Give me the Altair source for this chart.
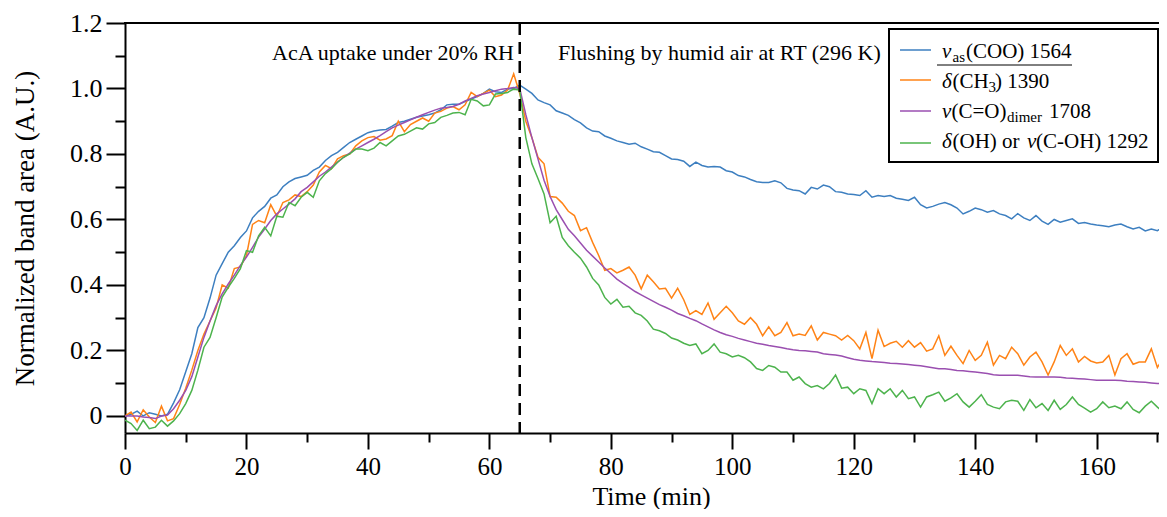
import altair as alt
import pandas as pd

# ---------------- data ----------------
time_min = list(range(172))

series_names = ["nu_as(COO) 1564", "delta(CH3) 1390", "nu(C=O)dimer 1708", "delta(OH) or nu(C-OH) 1292"]
series_colors = ["#3d7fc0", "#ff8316", "#9a4fb0", "#4db34d"]

blue = [
    0.000, 0.005, 0.015, 0.000, 0.010, 0.005, 0.000, 0.005, 0.040, 0.080,
    0.135, 0.190, 0.270, 0.300, 0.360, 0.430, 0.465, 0.500, 0.520, 0.545,
    0.565, 0.605, 0.625, 0.640, 0.665, 0.675, 0.700, 0.715, 0.725, 0.730,
    0.735, 0.750, 0.760, 0.780, 0.795, 0.805, 0.820, 0.835, 0.845, 0.855,
    0.865, 0.870, 0.873, 0.875, 0.885, 0.896, 0.900, 0.906, 0.912, 0.916,
    0.920, 0.925, 0.935, 0.950, 0.952, 0.952, 0.960, 0.968, 0.975, 0.985,
    0.998, 0.990, 0.988, 0.998, 1.000, 1.010, 0.998, 0.985, 0.965, 0.957,
    0.950, 0.932, 0.925, 0.918, 0.905, 0.895, 0.880, 0.870, 0.868, 0.855,
    0.848, 0.840, 0.835, 0.830, 0.833, 0.822, 0.815, 0.807, 0.805, 0.795,
    0.785, 0.783, 0.778, 0.762, 0.775, 0.765, 0.760, 0.762, 0.760, 0.749,
    0.745, 0.734, 0.730, 0.722, 0.715, 0.713, 0.713, 0.718, 0.712, 0.695,
    0.690, 0.688, 0.678, 0.698, 0.693, 0.705, 0.700, 0.685, 0.683, 0.678,
    0.676, 0.673, 0.688, 0.668, 0.673, 0.670, 0.673, 0.665, 0.662, 0.658,
    0.668, 0.645, 0.635, 0.640, 0.647, 0.652, 0.645, 0.635, 0.617, 0.625,
    0.635, 0.630, 0.622, 0.627, 0.617, 0.612, 0.602, 0.618, 0.605, 0.597,
    0.612, 0.595, 0.585, 0.600, 0.592, 0.597, 0.602, 0.588, 0.591, 0.586,
    0.583, 0.581, 0.578, 0.583, 0.586, 0.578, 0.571, 0.576, 0.565, 0.571,
    0.566, 0.578,
]

orange = [
    0.000, 0.012, -0.018, 0.019, -0.003, -0.020, 0.030, -0.015, -0.008, 0.035,
    0.085, 0.140, 0.200, 0.250, 0.290, 0.330, 0.400, 0.390, 0.450, 0.455,
    0.490, 0.585, 0.597, 0.590, 0.645, 0.610, 0.652, 0.660, 0.675, 0.670,
    0.685, 0.705, 0.745, 0.765, 0.755, 0.785, 0.795, 0.800, 0.825, 0.840,
    0.850, 0.853, 0.842, 0.846, 0.856, 0.900, 0.868, 0.890, 0.900, 0.910,
    0.900, 0.925, 0.930, 0.940, 0.945, 0.935, 0.950, 0.988, 0.975, 0.985,
    0.995, 0.975, 0.980, 0.995, 1.045, 0.985, 0.900, 0.850, 0.790, 0.770,
    0.670, 0.668, 0.650, 0.625, 0.612, 0.566, 0.575, 0.530, 0.490, 0.445,
    0.450, 0.437, 0.445, 0.455, 0.430, 0.388, 0.430, 0.410, 0.388, 0.390,
    0.360, 0.390, 0.355, 0.310, 0.322, 0.310, 0.345, 0.295, 0.315, 0.335,
    0.315, 0.290, 0.280, 0.300, 0.280, 0.245, 0.272, 0.245, 0.255, 0.285,
    0.245, 0.250, 0.246, 0.275, 0.232, 0.255, 0.250, 0.245, 0.232, 0.246,
    0.230, 0.205, 0.255, 0.175, 0.262, 0.212, 0.222, 0.228, 0.210, 0.230,
    0.210, 0.224, 0.198, 0.205, 0.245, 0.185, 0.213, 0.185, 0.160, 0.200,
    0.170, 0.185, 0.225, 0.155, 0.185, 0.175, 0.210, 0.190, 0.155, 0.180,
    0.195, 0.165, 0.125, 0.165, 0.215, 0.185, 0.205, 0.165, 0.182, 0.168,
    0.162, 0.165, 0.185, 0.125, 0.175, 0.190, 0.158, 0.165, 0.165, 0.205,
    0.148, 0.178,
]

purple = [
    0.000, 0.000, 0.000, -0.003, -0.005, -0.008, 0.000, 0.003, 0.022, 0.048,
    0.078, 0.120, 0.180, 0.240, 0.290, 0.337, 0.373, 0.403, 0.430, 0.460,
    0.485, 0.515, 0.546, 0.571, 0.597, 0.617, 0.632, 0.647, 0.663, 0.685,
    0.698, 0.715, 0.732, 0.745, 0.760, 0.775, 0.790, 0.803, 0.815, 0.825,
    0.835, 0.845, 0.856, 0.868, 0.880, 0.888, 0.896, 0.904, 0.912, 0.920,
    0.927, 0.934, 0.940, 0.942, 0.945, 0.952, 0.962, 0.970, 0.978, 0.983,
    0.988, 0.993, 0.998, 1.000, 1.003, 1.000, 0.920, 0.850, 0.785, 0.720,
    0.670, 0.630, 0.600, 0.570, 0.550, 0.528, 0.506, 0.488, 0.470, 0.452,
    0.435, 0.418, 0.405, 0.393, 0.380, 0.370, 0.360, 0.350, 0.340, 0.332,
    0.323, 0.313, 0.306, 0.298, 0.291, 0.281, 0.272, 0.263, 0.255, 0.248,
    0.243, 0.237, 0.232, 0.227, 0.222, 0.219, 0.215, 0.212, 0.209, 0.205,
    0.202, 0.200, 0.199, 0.197, 0.195, 0.190, 0.188, 0.186, 0.183, 0.178,
    0.173, 0.170, 0.168, 0.166, 0.165, 0.163, 0.161, 0.160, 0.159, 0.157,
    0.155, 0.153, 0.150, 0.147, 0.144, 0.144, 0.142, 0.139, 0.138, 0.136,
    0.134, 0.132, 0.130, 0.126, 0.124, 0.124, 0.124, 0.124, 0.122, 0.120,
    0.119, 0.119, 0.119, 0.119, 0.118, 0.116, 0.115, 0.114, 0.113, 0.111,
    0.109, 0.109, 0.109, 0.109, 0.108, 0.106, 0.105, 0.104, 0.103, 0.101,
    0.099, 0.101,
]

green = [
    -0.013, -0.023, -0.044, -0.013, -0.039, -0.034, -0.013, -0.031, -0.015, 0.007,
    0.038, 0.078, 0.140, 0.210, 0.240, 0.300, 0.363, 0.393, 0.420, 0.450,
    0.505, 0.500, 0.550, 0.576, 0.550, 0.610, 0.607, 0.652, 0.642, 0.668,
    0.683, 0.668, 0.718, 0.740, 0.755, 0.775, 0.790, 0.800, 0.815, 0.815,
    0.810, 0.818, 0.835, 0.825, 0.840, 0.855, 0.860, 0.870, 0.880, 0.876,
    0.892, 0.896, 0.912, 0.918, 0.925, 0.927, 0.920, 0.967, 0.962, 0.947,
    0.950, 0.983, 0.985, 0.988, 0.998, 0.995, 0.850, 0.770, 0.725, 0.678,
    0.590, 0.610, 0.545, 0.520, 0.500, 0.482, 0.455, 0.420, 0.400, 0.362,
    0.342, 0.356, 0.332, 0.335, 0.315, 0.307, 0.290, 0.265, 0.260, 0.252,
    0.238, 0.232, 0.222, 0.215, 0.220, 0.190, 0.200, 0.220, 0.195, 0.190,
    0.180, 0.185, 0.178, 0.165, 0.145, 0.139, 0.154, 0.149, 0.134, 0.134,
    0.109, 0.119, 0.099, 0.088, 0.093, 0.083, 0.099, 0.125, 0.085, 0.088,
    0.068, 0.083, 0.078, 0.038, 0.083, 0.068, 0.083, 0.058, 0.078, 0.053,
    0.058, 0.027, 0.058, 0.065, 0.073, 0.045, 0.055, 0.068, 0.043, 0.027,
    0.045, 0.065, 0.035, 0.027, 0.022, 0.043, 0.048, 0.045, 0.017, 0.050,
    0.025, 0.038, 0.017, 0.048, 0.020, 0.035, 0.058, 0.035, 0.024, 0.012,
    0.022, 0.043, 0.025, 0.030, 0.022, 0.043, 0.020, 0.010, 0.030, 0.045,
    0.027, 0.012,
]

flush_start = [65]
x_ticks = list(range(0, 171, 10))
y_ticks = [round(i * 0.1, 1) for i in range(13)]

# ---------------- build table ----------------
frames = []
for name, vals in zip(series_names, [blue, orange, purple, green]):
    frames.append(pd.DataFrame({"t": time_min, "v": vals, "series": name}))
df = pd.concat(frames, ignore_index=True)

FONT = "Liberation Serif"
W, H = 1034, 410
PX_PER_MIN = 6.073

x_scale = alt.Scale(domain=[0, W / PX_PER_MIN], nice=False, zero=False)
y_scale = alt.Scale(domain=[-0.052, 1.2], nice=False, zero=False)

common_axis = dict(
    grid=False, domainColor="black", domainWidth=2, tickColor="black", tickWidth=2,
    labelFont=FONT, labelColor="black", labelOverlap=False, labelFlush=False,
    titleFont=FONT, titleFontWeight="normal", titleColor="black",
)

x_axis = alt.Axis(
    values=x_ticks,
    labelExpr="datum.value % 20 === 0 ? datum.label : ''",
    tickSize={"condition": {"test": "datum.value % 20 === 0", "value": 16}, "value": 9},
    labelPadding=5, labelFontSize=25,
    title="Time (min)", titleFontSize=26, titleBaseline="alphabetic", titleY=71, titleX=526,
    **common_axis,
)
y_axis = alt.Axis(
    values=y_ticks,
    labelExpr="(round(datum.value*10) % 2 === 0) ? (abs(datum.value) < 0.001 ? '0' : format(datum.value, '.1f')) : ''",
    tickSize={"condition": {"test": "round(datum.value*10) % 2 === 0", "value": 19}, "value": 10},
    labelPadding=4, labelFontSize=26,
    title="Normalized band area (A.U.)", titleFontSize=27, titleBaseline="alphabetic", titleAngle=270,
    titleX=-92, titleY=H / 2, titleAlign="center",
    **common_axis,
)

lines = alt.Chart(df).mark_line(strokeWidth=1.5, clip=True).encode(
    x=alt.X("t:Q", scale=x_scale, axis=x_axis),
    y=alt.Y("v:Q", scale=y_scale, axis=y_axis),
    color=alt.Color("series:N", scale=alt.Scale(domain=series_names, range=series_colors), legend=None),
)

vline = alt.Chart(pd.DataFrame({"t": flush_start})).mark_rule(
    color="black", strokeWidth=2.5, strokeDash=[12, 7]
).encode(x=alt.X("t:Q", scale=x_scale, axis=x_axis), y=alt.value(0), y2=alt.value(H))

one = pd.DataFrame({"k": [0]})

top_border = alt.Chart(one).mark_rule(color="black", strokeWidth=2).encode(
    x=alt.value(-1), x2=alt.value(W), y=alt.value(0)
)


def txt(s, x, y, size=21, italic=False):
    return alt.Chart(one).mark_text(
        text=s, align="left", baseline="alphabetic", font=FONT, fontSize=size,
        fontStyle="italic" if italic else "normal", color="black",
    ).encode(x=alt.value(x), y=alt.value(y))


annotations = [
    txt("AcA uptake under 20% RH", 147, 37, size=22),
    txt("Flushing by humid air at RT (296 K)", 433, 37, size=22),
]

legend_box = alt.Chart(one).mark_rect(fill="white", stroke="black", strokeWidth=2).encode(
    x=alt.value(764), x2=alt.value(1033), y=alt.value(6), y2=alt.value(139)
)

legend_line_y = [27, 57, 88, 120]
legend_lines = [
    alt.Chart(one).mark_rule(color=c, strokeWidth=1.5).encode(
        x=alt.value(775), x2=alt.value(806), y=alt.value(ly)
    )
    for c, ly in zip(series_colors, legend_line_y)
]

legend_text = [
    # row 1
    txt("ν", 817, 35, italic=True),
    txt("as", 827.5, 39, size=15),
    txt("(COO) 1564", 841, 35),
    # row 2
    txt("δ", 817, 65, italic=True),
    txt("(CH", 827.5, 65),
    txt("3", 863.5, 69, size=15),
    txt(") 1390", 870, 65),
    # row 3
    txt("ν", 817, 95, italic=True),
    txt("(C=O)", 826.5, 95),
    txt("dimer", 882, 99, size=15),
    txt("1708", 924, 95),
    # row 4
    txt("δ", 817, 125, italic=True),
    txt("(OH) or", 827.5, 125),
    txt("ν", 902, 125, italic=True),
    txt("(C-OH) 1292", 911, 125),
]

underline = alt.Chart(one).mark_rule(color="black", strokeWidth=1).encode(
    x=alt.value(812), x2=alt.value(947), y=alt.value(42)
)

chart = alt.layer(
    lines, vline, top_border, *annotations, legend_box, *legend_lines, *legend_text, underline
).properties(
    width=W, height=H,
    padding={"left": 117, "top": 15, "right": 0, "bottom": 76},
    autosize=alt.AutoSizeParams(type="none"),
).configure_view(stroke=None)

chart.save("out.html", embed_options={"renderer": "svg", "actions": False})
